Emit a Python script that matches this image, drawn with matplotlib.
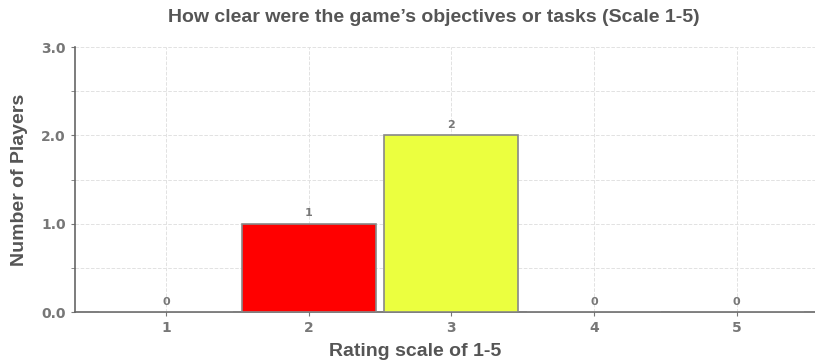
import matplotlib.pyplot as plt
from matplotlib.ticker import MultipleLocator

# Data
ratings = [1, 2, 3, 4, 5]
players = [0, 1, 2, 0, 0]
bar_colors = ['#ff0000', '#ff0000', '#ebff3f', '#ebff3f', '#ebff3f']
tick_labels = ['1', '2', '3', '4', '5']

fig = plt.figure(figsize=(8.15, 3.62), dpi=100)
ax = fig.add_axes([0.092, 0.138, 0.908, 0.732])

bars = ax.bar(ratings, players, width=0.94, color=bar_colors,
              edgecolor='#888888', linewidth=1.2, zorder=3)

for x, v in zip(ratings, players):
    ax.text(x, v + 0.06, str(v), ha='center', va='bottom',
            fontsize=8, color='#777777', fontweight='bold')

ax.set_xlim(0.36, 5.55)
ax.set_ylim(0, 3.0)
ax.set_xticks(ratings)
ax.set_xticklabels(tick_labels)
ax.set_yticks([0, 1, 2, 3])
ax.set_yticklabels(['0.0', '1.0', '2.0', '3.0'])
ax.yaxis.set_minor_locator(MultipleLocator(0.5))

ax.tick_params(axis='both', colors='#777777', labelsize=10, length=3)
ax.tick_params(axis='y', which='minor', length=3, color='#777777')
for lbl in ax.get_xticklabels() + ax.get_yticklabels():
    lbl.set_fontweight('bold')

ax.grid(True, which='both', color='#e2e2e2', linestyle='--', linewidth=0.7, zorder=0)

for side in ['top', 'right']:
    ax.spines[side].set_visible(False)
for side in ['left', 'bottom']:
    ax.spines[side].set_color('#666666')
    ax.spines[side].set_linewidth(1.2)

ax.set_title("How clear were the game\u2019s objectives or tasks (Scale 1-5)",
             fontsize=14, fontweight='bold', color='#555555',
             family='Liberation Sans', pad=18, x=0.485)
ax.set_ylabel('Number of Players', fontsize=14, fontweight='bold',
              color='#555555', family='Liberation Sans')
ax.yaxis.set_label_coords(-0.064, 0.5)
ax.set_xlabel('Rating scale of 1-5', fontsize=14, fontweight='bold',
              color='#555555', family='Liberation Sans')
ax.xaxis.set_label_coords(0.46, -0.115)

fig.savefig('out.png', dpi=100)
